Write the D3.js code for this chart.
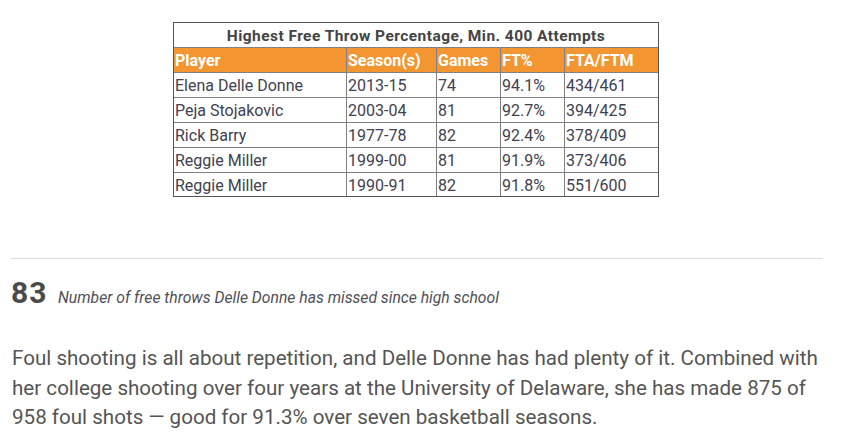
<!DOCTYPE html>
<meta charset='utf-8'>
<head>
    <title>Free Throws</title>
    <script src='https://cdn.jsdelivr.net/npm/d3@7'></script>
</head>

<style>
    body { margin: 0; background: #fff; }
    svg { display: block; font-family: Roboto, sans-serif; }
    .cell-line { stroke: #808080; stroke-width: 1px; }
    .outer { fill: none; stroke: #555; stroke-width: 1px; }
    .title { font-weight: bold; font-size: 15.5px; letter-spacing: 0.45px; fill: #444; }
    .head { font-weight: bold; font-size: 16px; fill: #fff; }
    .cell { font-size: 16px; fill: #414152; }
</style>

<svg></svg>

<script>

    // table data
    var tableTitle = 'Highest Free Throw Percentage, Min. 400 Attempts';
    var headers = ['Player', 'Season(s)', 'Games', 'FT%', 'FTA/FTM'];
    var players = ['Elena Delle Donne', 'Peja Stojakovic', 'Rick Barry', 'Reggie Miller', 'Reggie Miller'];
    var seasons = ['2013-15', '2003-04', '1977-78', '1999-00', '1990-91'];
    var games = [74, 81, 82, 81, 82];
    var ftPct = [94.1, 92.7, 92.4, 91.9, 91.8];
    var ftaFtm = ['434/461', '394/425', '378/409', '373/406', '551/600'];

    // callout + story text
    var bigNumber = '83';
    var bigNumberNote = 'Number of free throws Delle Donne has missed since high school';
    var paragraph = [
        'Foul shooting is all about repetition, and Delle Donne has had plenty of it. Combined with',
        'her college shooting over four years at the University of Delaware, she has made 875 of',
        '958 foul shots \u2014 good for 91.3% over seven basketball seasons.'
    ];

    var vWidth = 847;
    var vHeight = 444;
    var svg = d3.select('svg').attr('width', vWidth).attr('height', vHeight);

    // columns: relative widths of each column, mapped into the table span
    var colWidths = [173, 91, 64, 64, 95];
    var tableLeft = 173, tableRight = 659, tableTop = 22, tableBottom = 197;
    var colEdges = [0];
    colWidths.forEach(function (w, i) { colEdges.push(colEdges[i] + w); });
    var x = d3.scaleLinear().domain([0, colEdges[colEdges.length - 1]]).range([tableLeft, tableRight]);

    var rowIds = ['title', 'head'].concat(players.map(function (d, i) { return 'r' + i; }));
    var y = d3.scaleBand().domain(rowIds).range([tableTop, tableBottom]);

    var rows = players.map(function (p, i) {
        return [p, seasons[i], String(games[i]), ftPct[i].toFixed(1) + '%', ftaFtm[i]];
    });

    var t = svg.append('g');

    // header background
    t.append('rect')
        .attr('x', x(0)).attr('y', y('head'))
        .attr('width', x(colEdges[5]) - x(0)).attr('height', y.bandwidth())
        .attr('fill', '#F39530');

    // horizontal lines
    t.selectAll('line.h').data(rowIds.slice(1)).enter().append('line')
        .attr('class', 'cell-line h')
        .attr('x1', tableLeft).attr('x2', tableRight)
        .attr('y1', function (d) { return y(d) + 0.5; })
        .attr('y2', function (d) { return y(d) + 0.5; });

    // vertical lines (below the title row)
    t.selectAll('line.v').data(colEdges.slice(1, -1)).enter().append('line')
        .attr('class', 'cell-line v')
        .attr('x1', function (d) { return Math.round(x(d)) + 0.5; })
        .attr('x2', function (d) { return Math.round(x(d)) + 0.5; })
        .attr('y1', y('head')).attr('y2', tableBottom);

    t.append('rect').attr('class', 'outer')
        .attr('x', tableLeft + 0.5).attr('y', tableTop + 0.5)
        .attr('width', tableRight - tableLeft - 1).attr('height', tableBottom - tableTop - 1);

    t.append('text').attr('class', 'title')
        .attr('x', (tableLeft + tableRight) / 2).attr('y', y('title') + 19)
        .attr('text-anchor', 'middle').text(tableTitle);

    t.selectAll('text.head').data(headers).enter().append('text')
        .attr('class', 'head')
        .attr('x', function (d, i) { return Math.round(x(colEdges[i])) + 2; })
        .attr('y', y('head') + 19)
        .text(function (d) { return d; });

    var rowG = t.selectAll('g.row').data(rows).enter().append('g')
        .attr('transform', function (d, i) { return 'translate(0,' + y('r' + i) + ')'; });
    rowG.selectAll('text').data(function (d) { return d; }).enter().append('text')
        .attr('class', 'cell')
        .attr('x', function (d, i) { return Math.round(x(colEdges[i])) + 2; })
        .attr('y', 19)
        .text(function (d) { return d; });

    // divider rule
    svg.append('line')
        .attr('x1', 11).attr('x2', 823).attr('y1', 258.5).attr('y2', 258.5)
        .attr('stroke', '#dddddd').attr('stroke-width', 1);

    // big number callout
    svg.append('text')
        .attr('x', 11).attr('y', 303)
        .attr('font-size', 30).attr('font-weight', 'bold').attr('letter-spacing', 1)
        .attr('fill', '#4a4a4a')
        .text(bigNumber);
    svg.append('text')
        .attr('x', 58).attr('y', 303)
        .attr('font-size', 15.7).attr('font-style', 'italic').attr('fill', '#4f4f5a')
        .text(bigNumberNote);

    // story paragraph
    svg.selectAll('text.para').data(paragraph).enter().append('text')
        .attr('class', 'para')
        .attr('x', 12)
        .attr('y', function (d, i) { return 365 + i * 29.5; })
        .attr('font-size', 20.6).attr('fill', '#555')
        .text(function (d) { return d; });
</script>
